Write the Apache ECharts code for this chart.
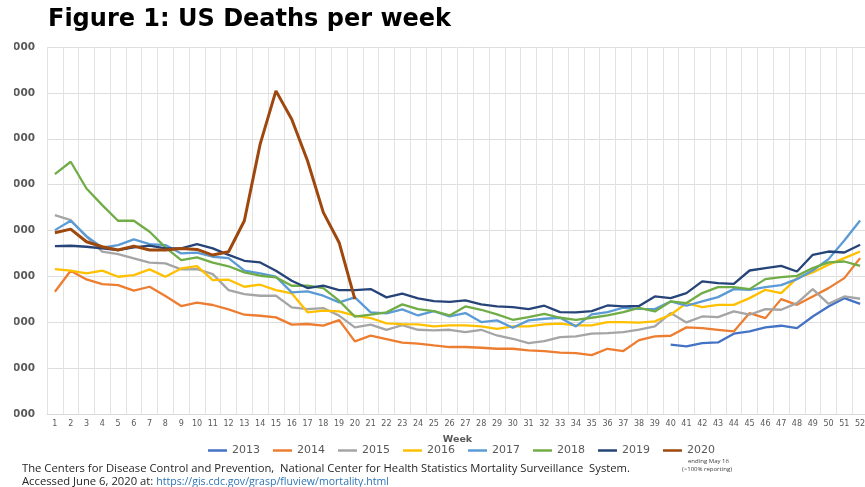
<!DOCTYPE html>
<html>
<head>
<meta charset="utf-8">
<script src="https://cdn.jsdelivr.net/npm/echarts@6/dist/echarts.min.js"></script>
<style>
html,body{margin:0;padding:0;background:#fff;}
#chart{width:865px;height:487px;}
</style>
</head>
<body>
<div id="chart"></div>
<script>
const weeks = ['1','2','3','4','5','6','7','8','9','10','11','12','13','14','15','16','17','18','19','20','21','22','23','24','25','26','27','28','29','30','31','32','33','34','35','36','37','38','39','40','41','42','43','44','45','46','47','48','49','50','51','52'];
const yTicks = [40000, 45000, 50000, 55000, 60000, 65000, 70000, 75000, 80000];
const seriesNames = ['2013','2014','2015','2016','2017','2018','2019','2020'];

const d2013 = [null,null,null,null,null,null,null,null,null,null,null,null,null,null,null,null,null,null,null,null,
  null,null,null,null,null,null,null,null,null,null,null,null,null,null,null,null,null,null,null,
  47550,47370,47730,47800,48750,49000,49440,49620,49360,50630,51720,52630,52010];
const d2014 = [53330,55620,54670,54160,54050,53440,53870,52860,51770,52130,51880,51400,50820,50710,50530,49740,49810,49630,50240,47920,
  48540,48170,47770,47680,47480,47300,47300,47220,47110,47110,46930,46860,46680,46640,46420,47110,46860,48050,48450,48530,
  49440,49360,49180,49000,51000,50450,52520,51900,52810,53720,54810,56990];
const d2015 = [61680,61130,59320,57690,57430,56960,56490,56420,55760,55800,55250,53500,53070,52890,52890,51620,51440,51550,50720,49440,
  49740,49160,49680,49180,49110,49180,48930,49180,48560,48200,47730,47950,48380,48460,48750,48820,48930,49200,49550,51000,
  49980,50630,50560,51180,50820,51430,51360,52090,53610,52010,52810,52560];
const d2016 = [55800,55620,55330,55620,54960,55140,55760,54960,55870,56120,54600,54640,53870,54090,53510,53150,51080,51260,51190,50720,
  50460,49880,49800,49770,49550,49660,49660,49550,49290,49550,49550,49770,49840,49660,49660,50020,50020,49950,50090,50820,
  52090,51650,51900,51900,52630,53540,53180,54810,55430,56260,56990,57710];
const d2017 = [60040,61060,59390,58120,58410,59030,58520,58410,57500,57580,57140,57000,55620,55330,54960,53260,53360,52890,52170,52710,
  51080,50970,51400,50740,51220,50630,51000,50020,50200,49400,50200,50380,50490,49550,50850,51110,51580,51450,51430,52270,
  51800,52270,52740,53610,53540,53830,54050,54700,55640,56880,58910,61090];
const d2018 = [66140,67490,64580,62770,61060,61060,59860,58160,56780,57070,56490,56100,55430,55070,54890,53980,53980,53730,52350,50610,
  50820,51080,51950,51420,51220,50740,51720,51360,50850,50270,50560,50920,50490,50270,50490,50740,51110,51560,51180,52270,
  52090,53180,53830,53830,53610,54700,54920,55060,55900,56520,56620,56150];
const d2019 = [58300,58340,58230,58050,57870,58160,58340,58050,58050,58520,58050,57350,56700,56520,55620,54530,53730,53980,53510,53510,
  53620,52710,53120,52600,52300,52230,52380,51940,51720,51650,51430,51800,51110,51070,51210,51830,51720,51780,52810,52630,
  53180,54450,54270,54190,55640,55900,56150,55530,57350,57710,57600,58440];
const d2020 = [59750,60150,58770,58230,57870,58300,57870,57870,58050,57940,57320,57690,61060,69410,75220,72130,67600,61970,58700,52530];

const allData = [d2013,d2014,d2015,d2016,d2017,d2018,d2019,d2020];
const colors = ['#4472C4','#ED7D31','#A5A5A5','#FFC000','#5B9BD5','#70AD47','#264478','#9E480E'];
const widths = [2.3,2.3,2.3,2.3,2.3,2.3,2.3,3];

const footer1 = 'The Centers for Disease Control and Prevention,  National Center for Health Statistics Mortality Surveillance  System.';
const footer2a = 'Accessed June 6, 2020 at: ';
const footer2b = 'https://gis.cdc.gov/grasp/fluview/mortality.html';
const noteA = 'ending May 16';
const noteB = '(>100% reporting)';

const footFont = 'Open Sans';
const ctx = document.createElement('canvas').getContext('2d');
ctx.font = '10px "' + footFont + '"';
const footSize = 10 * 608 / ctx.measureText(footer1).width;
ctx.font = footSize + 'px "' + footFont + '"';
const wA = ctx.measureText(footer2a).width;
const linkFont = (footSize * 0.94) + 'px "' + footFont + '"';
ctx.font = linkFont;
const wB = ctx.measureText(footer2b).width;
const fFont = footSize + 'px "' + footFont + '"';

const chart = echarts.init(document.getElementById('chart'), null, {renderer:'canvas'});
chart.setOption({
  animation: false,
  color: colors,
  title: {
    text: 'Figure 1: US Deaths per week',
    left: 43, top: 3,
    textStyle: {fontFamily: 'DejaVu Sans', fontWeight: 'bold', fontSize: 24, color: '#000'}
  },
  legend: {
    data: seriesNames,
    left: 208, top: 445, padding: 0,
    icon: 'rect', itemWidth: 19, itemHeight: 2.5, itemGap: 13,
    textStyle: {fontFamily: 'DejaVu Sans', fontSize: 11, color: '#595959'}
  },
  grid: {left: 47, top: 47, width: 821, height: 367, containLabel: false, outerBoundsMode: 'none'},
  xAxis: {
    type: 'category', data: weeks, boundaryGap: true,
    name: 'Week', nameLocation: 'middle', nameGap: 21,
    nameTextStyle: {fontFamily: 'DejaVu Sans', fontWeight: 'bold', fontSize: 9.5, color: '#595959'},
    axisLine: {lineStyle: {color: '#d9d9d9'}},
    axisTick: {show: false},
    axisLabel: {interval: 0, fontFamily: 'DejaVu Sans', fontSize: 8, color: '#595959', margin: 6},
    splitLine: {show: true, interval: 0, lineStyle: {color: '#e3e3e3', width: 1}}
  },
  yAxis: {
    type: 'value', min: yTicks[0], max: yTicks[yTicks.length-1], interval: 5000,
    axisLine: {show: false}, axisTick: {show: false},
    axisLabel: {fontFamily: 'DejaVu Sans', fontWeight: 'bold', fontSize: 10.5, color: '#595959', margin: 12,
      hideOverlap: false, formatter: v => v.toLocaleString('en-US')},
    splitLine: {lineStyle: {color: '#dedede', width: 1}}
  },
  series: seriesNames.map((n, i) => ({
    name: n, type: 'line', data: allData[i], showSymbol: false, symbol: 'none',
    connectNulls: false,
    lineStyle: {width: widths[i], color: colors[i]},
    itemStyle: {color: colors[i]},
    z: i === 7 ? 5 : 2
  })),
  graphic: [
    {type: 'rect', left: 0, top: 30, z: 100, shape: {width: 14, height: 400}, style: {fill: '#fff'}},
    {type: 'text', left: 22, top: 463, style: {text: footer1, font: fFont, fill: '#262626'}},
    {type: 'text', left: 22, top: 476, style: {text: footer2a, font: fFont, fill: '#262626'}},
    {type: 'text', left: 22 + wA, top: 476.5, style: {text: footer2b, font: linkFont, fill: '#2E75B6'}},
    {type: 'line', shape: {x1: 22 + wA, y1: 488.5, x2: 22 + wA + wB, y2: 488.5}, style: {stroke: '#2E75B6', lineWidth: 0.8}},
    {type: 'text', left: 688, top: 458, style: {text: noteA, font: '6px "Open Sans"', fill: '#404040'}},
    {type: 'text', left: 682, top: 466, style: {text: noteB, font: '6px "Open Sans"', fill: '#404040'}}
  ]
});
</script>
</body>
</html>
